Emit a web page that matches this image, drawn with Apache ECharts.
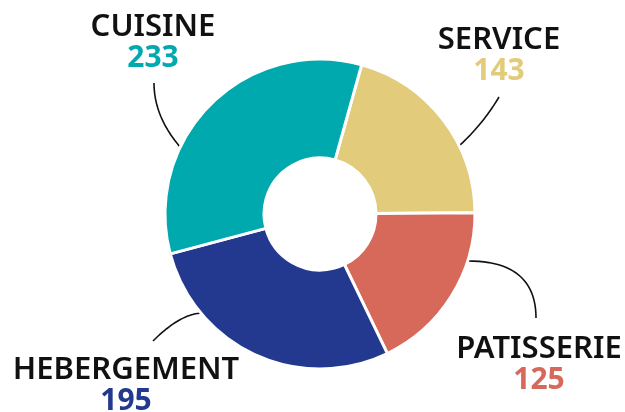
<!DOCTYPE html>
<html>
<head>
<meta charset="utf-8">
<script src="https://cdn.jsdelivr.net/npm/echarts@6/dist/echarts.min.js"></script>
<style>html,body{margin:0;padding:0;background:#fff}#c{width:625px;height:412px}</style>
</head>
<body>
<div id="c"></div>
<script>
const categories = ['SERVICE', 'PATISSERIE', 'HEBERGEMENT', 'CUISINE'];
const values = [143, 125, 195, 233];
const colors = ['#E2CB7A', '#D6695A', '#23398F', '#00A9AE'];

// label layout (positions / leader line geometry) – style only
const labelPos = [
  { x: 499, y: 56 },
  { x: 539, y: 365 },
  { x: 126, y: 386 },
  { x: 153, y: 43 }
];
// leader lines: start on ring edge, control point, end near label (quadratic curve)
const lineCtrl = [
  [[459, 146], [483, 124], [499, 97]],
  [[468, 261], [536, 261], [536, 318]],
  [[203, 313], [181, 313], [153, 341]],
  [[181, 148], [154, 117], [154, 83]]
];
function curvePoints(c) {
  const pts = [];
  const n = 24;
  for (let k = 0; k <= n; k++) {
    const t = k / n, u = 1 - t;
    pts.push([
      u * u * c[0][0] + 2 * u * t * c[1][0] + t * t * c[2][0],
      u * u * c[0][1] + 2 * u * t * c[1][1] + t * t * c[2][1]
    ]);
  }
  return pts;
}

const chart = echarts.init(document.getElementById('c'), null, { renderer: 'canvas' });
const data = categories.map((n, i) => ({
  name: n,
  value: values[i],
  itemStyle: { color: colors[i] },
  label: { rich: { val: { color: colors[i] } } }
}));
const fontFamily = '"Noto Sans", "Open Sans", sans-serif';
chart.setOption({
  animation: false,
  series: [{
    type: 'pie',
    center: [320, 214],
    radius: [56, 155],
    startAngle: 74.4,
    clockwise: true,
    avoidLabelOverlap: false,
    itemStyle: { borderColor: '#fff', borderWidth: 3 },
    label: {
      show: true,
      position: 'outside',
      formatter: p => '{name|' + p.name + '}\n{val|' + p.value + '}',
      rich: {
        name: { fontFamily, fontSize: 31, fontWeight: 600, color: '#111', lineHeight: 31, align: 'center' },
        val: { fontFamily, fontSize: 30, fontWeight: 700, lineHeight: 31, align: 'center' }
      }
    },
    labelLine: { show: true, smooth: false, lineStyle: { color: '#111', width: 1.6 } },
    labelLayout: function (params) {
      const i = params.dataIndex;
      return {
        x: labelPos[i].x,
        y: labelPos[i].y,
        align: 'center',
        verticalAlign: 'middle',
        labelLinePoints: curvePoints(lineCtrl[i])
      };
    },
    emphasis: { disabled: true },
    data
  }]
});
</script>
</body>
</html>
